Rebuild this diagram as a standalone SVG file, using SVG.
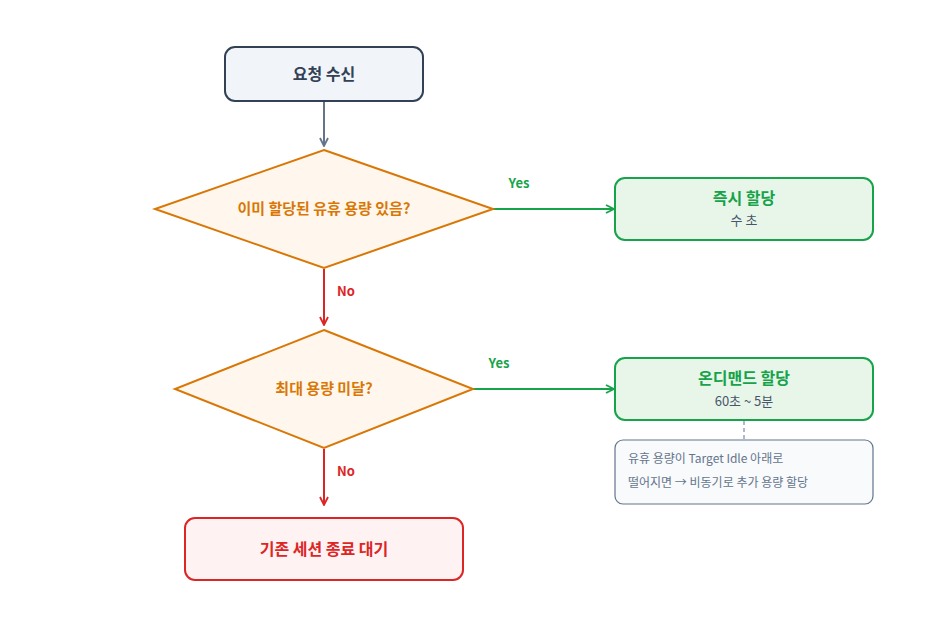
<svg xmlns="http://www.w3.org/2000/svg" width="948" height="623" viewBox="0 0 948 623">
<style>
text{font-family:"Noto Sans CJK KR","Noto Sans",sans-serif;text-anchor:middle}
.t{font-size:16px;font-weight:bold}
.s{font-size:13px;fill:#475569}
.l{font-size:13px;font-weight:bold}
</style>
<defs>
<marker id="ag" markerWidth="10" markerHeight="10" refX="9" refY="5" orient="auto" markerUnits="userSpaceOnUse"><path d="M1,1 L9,5 L1,9" fill="none" stroke="#16a34a" stroke-width="1.8"/></marker>
<marker id="ar" markerWidth="10" markerHeight="10" refX="9" refY="5" orient="auto" markerUnits="userSpaceOnUse"><path d="M1,1 L9,5 L1,9" fill="none" stroke="#dc2626" stroke-width="1.8"/></marker>
<marker id="ab" markerWidth="10" markerHeight="10" refX="9" refY="5" orient="auto" markerUnits="userSpaceOnUse"><path d="M1,1 L9,5 L1,9" fill="none" stroke="#64748b" stroke-width="1.8"/></marker>
</defs>
<rect width="948" height="623" fill="#fff"/>
<g id="connectors" fill="none" stroke-width="2">
<path d="M324,102 V146" stroke="#64748b" marker-end="url(#ab)"/>
<path d="M493,209 H614" stroke="#16a34a" marker-end="url(#ag)"/>
<path d="M324,269 V325" stroke="#dc2626" marker-end="url(#ar)"/>
<path d="M473,389 H614" stroke="#16a34a" marker-end="url(#ag)"/>
<path d="M324,449 V505" stroke="#dc2626" marker-end="url(#ar)"/>
<path d="M744,421 V439" stroke="#94a3b8" stroke-width="1.5" stroke-dasharray="4,3"/>
<text x="519" y="188" class="l" fill="#16a34a">Yes</text>
<text x="346" y="296" class="l" fill="#dc2626">No</text>
<text x="499" y="368" class="l" fill="#16a34a">Yes</text>
<text x="346" y="476" class="l" fill="#dc2626">No</text>
</g>
<g id="start"><rect x="225" y="47" width="198" height="54" rx="10" fill="#f1f5f9" stroke="#334155" stroke-width="2"/><text x="324" y="80" class="t" fill="#334155">요청 수신</text></g>
<g id="d1"><polygon points="324,150 493,209 324,268 155,209" fill="#fff7ed" stroke="#d97706" stroke-width="2"/><text x="324" y="214" class="t" fill="#d97706" style="font-size:15px">이미 할당된 유휴 용량 있음?</text></g>
<g id="immediate"><rect x="615" y="178" width="258" height="62" rx="10" fill="#e8f5e9" stroke="#16a34a" stroke-width="2"/><text x="744" y="204" class="t" fill="#16a34a">즉시 할당</text><text x="744" y="225" class="s">수 초</text></g>
<g id="d2"><polygon points="324,330 473,389 324,448 175,389" fill="#fff7ed" stroke="#d97706" stroke-width="2"/><text x="324" y="394" class="t" fill="#d97706" style="font-size:15px">최대 용량 미달?</text></g>
<g id="ondemand"><rect x="615" y="358" width="258" height="62" rx="10" fill="#e8f5e9" stroke="#16a34a" stroke-width="2"/><text x="744" y="384" class="t" fill="#16a34a">온디맨드 할당</text><text x="744" y="406" class="s">60초 ~ 5분</text></g>
<g id="note"><rect x="615" y="440" width="258" height="64" rx="8" fill="#f8fafc" stroke="#64748b" stroke-width="1.2"/><text x="628" y="463" class="s" style="text-anchor:start;fill:#64748b;font-size:12px">유휴 용량이 Target Idle 아래로</text><text x="628" y="487" class="s" style="text-anchor:start;fill:#64748b;font-size:12px">떨어지면 → 비동기로 추가 용량 할당</text></g>
<g id="wait"><rect x="185" y="518" width="278" height="62" rx="10" fill="#fef2f2" stroke="#dc2626" stroke-width="2"/><text x="324" y="555" class="t" fill="#dc2626">기존 세션 종료 대기</text></g>
</svg>
